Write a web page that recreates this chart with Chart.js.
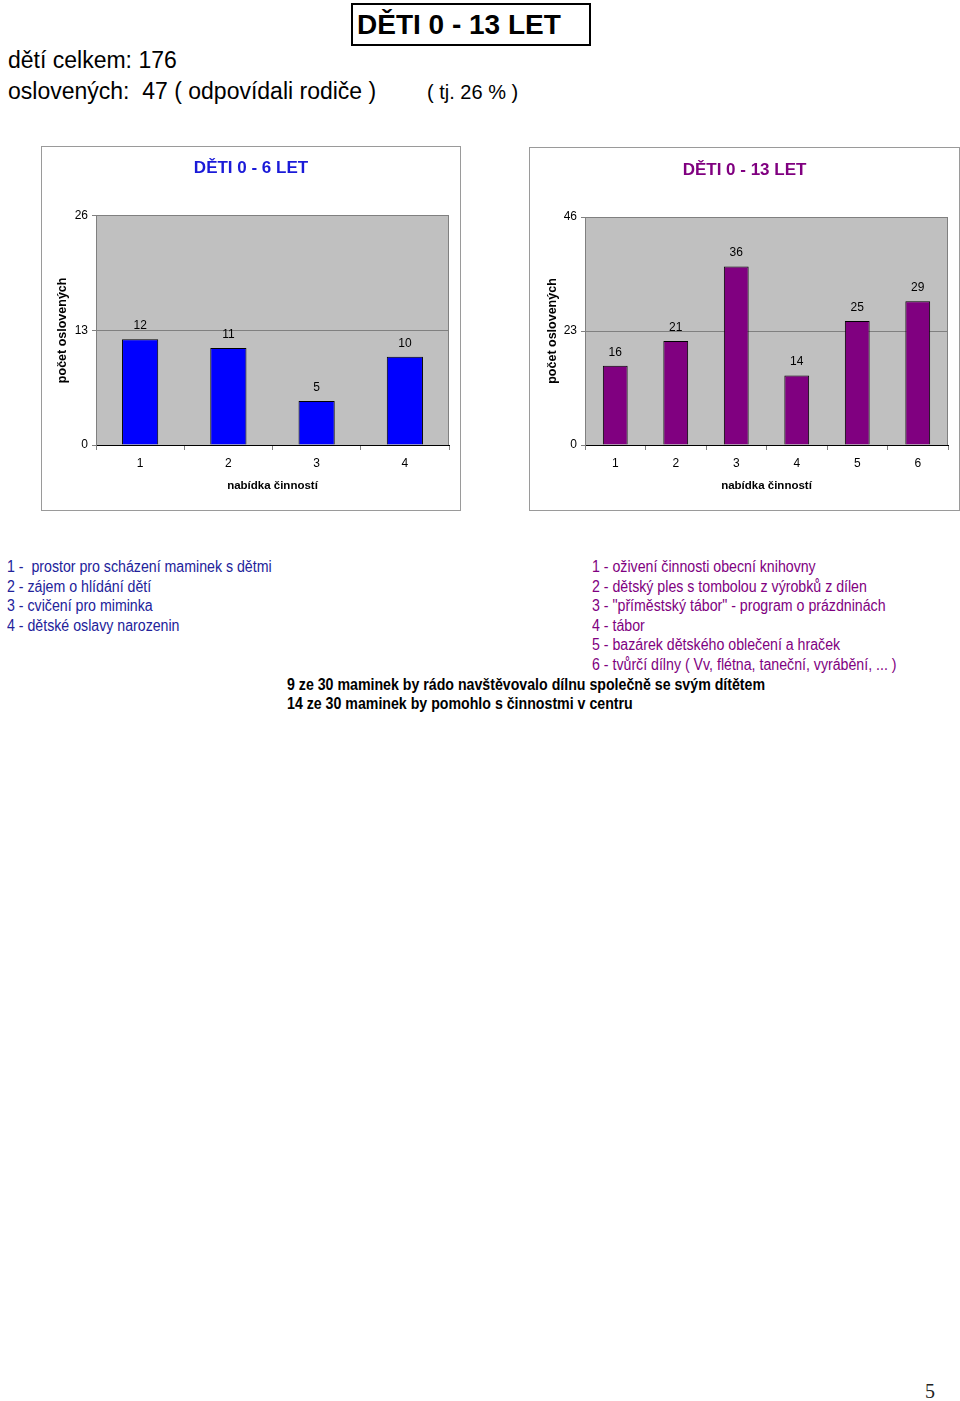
<!DOCTYPE html>
<html lang="cs">
<head>
<meta charset="utf-8">
<title>DĚTI 0 - 13 LET</title>
<script src="https://cdn.jsdelivr.net/npm/chart.js@4.4.1/dist/chart.umd.min.js"></script>
<style>
  html, body { margin: 0; padding: 0; background: #fff; }
  body { width: 960px; height: 1401px; position: relative; overflow: hidden;
         font-family: "Liberation Sans", Arial, sans-serif; color: #000; }
  .abs { position: absolute; white-space: pre; line-height: 1; }
  #bigTitle { left: 351px; top: 3px; width: 240px; height: 43px; box-sizing: border-box;
              border: 2px solid #000; }
  #bigTitleText { left: 357px; top: 11px; font-size: 28px; font-weight: bold; }
  #total { left: 8px; top: 49px; font-size: 23px; }
  #asked { left: 8px; top: 80px; font-size: 23px; }
  #pct { left: 427px; top: 82px; font-size: 20px; }
  .chartBox { position: absolute; }
  .narrow { position: absolute; white-space: pre; font-size: 17.3px; line-height: 19.57px;
            font-family: "Liberation Sans Narrow", "Arial Narrow", sans-serif; }
  .narrow.fake { font-family: "Liberation Sans", Arial, sans-serif; transform: scaleX(0.82);
                 transform-origin: left top; }
  #legend06 { left: 7px; top: 557px; color: #22229a; }
  #legend013 { left: 592px; top: 557px; color: #800080; }
  #notes { left: 287px; top: 674.5px; font-weight: bold; color: #000; }
  #pageNo { left: 925px; top: 1381px; font-size: 20px; font-family: "Liberation Serif", serif; color: #222; }
</style>
</head>
<body>
<div id="bigTitle" class="abs"></div>
<div id="bigTitleText" class="abs">DĚTI 0 - 13 LET</div>
<div id="total" class="abs">dětí celkem: 176</div>
<div id="asked" class="abs">oslovených:  47 ( odpovídali rodiče )</div>
<div id="pct" class="abs">( tj. 26 % )</div>

<div class="chartBox" style="left:41px; top:146px;"><canvas id="chart06" width="420" height="365"></canvas></div>
<div class="chartBox" style="left:529px; top:147px;"><canvas id="chart013" width="431" height="364"></canvas></div>

<div id="legend06" class="narrow"></div>
<div id="legend013" class="narrow"></div>
<div id="notes" class="narrow"></div>
<div id="pageNo" class="abs">5</div>

<script>
// data
const categories06 = ["1", "2", "3", "4"];
const values06 = [12, 11, 5, 10];
const yTicks06 = [0, 13, 26];

const categories013 = ["1", "2", "3", "4", "5", "6"];
const values013 = [16, 21, 36, 14, 25, 29];
const yTicks013 = [0, 23, 46];

const legend06 = [
  "1 -  prostor pro scházení maminek s dětmi",
  "2 - zájem o hlídání dětí",
  "3 - cvičení pro miminka",
  "4 - dětské oslavy narozenin",
];
const legend013 = [
  "1 - oživení činnosti obecní knihovny",
  "2 - dětský ples s tombolou z výrobků z dílen",
  "3 - \"příměstský tábor\" - program o prázdninách",
  "4 - tábor",
  "5 - bazárek dětského oblečení a hraček",
  "6 - tvůrčí dílny ( Vv, flétna, taneční, vyrábění, ... )",
];
const notes = [
  "9 ze 30 maminek by rádo navštěvovalo dílnu společně se svým dítětem",
  "14 ze 30 maminek by pomohlo s činnostmi v centru",
];

// narrow font check, fall back to squeezed Liberation Sans
function hasFont(name) {
  const c = document.createElement("canvas").getContext("2d");
  c.font = "20px monospace";
  const a = c.measureText("abcdefgh mmm ili").width;
  c.font = '20px "' + name + '", monospace';
  const b = c.measureText("abcdefgh mmm ili").width;
  return a !== b;
}
const narrowOk = hasFont("Liberation Sans Narrow");
document.getElementById("legend06").textContent = legend06.join("\n");
document.getElementById("legend013").textContent = legend013.join("\n");
document.getElementById("notes").textContent = notes.join("\n");
if (!narrowOk) {
  document.querySelectorAll(".narrow").forEach(el => el.classList.add("fake"));
}

Chart.defaults.font.family = '"Liberation Sans", Arial, sans-serif';
Chart.defaults.font.size = 12;
Chart.defaults.color = "#000";

const plotStyle = {
  id: "plotStyle",
  beforeDraw(chart) {
    const { ctx, chartArea: a, width, height } = chart;
    ctx.save();
    ctx.strokeStyle = "#9a9a9a";
    ctx.lineWidth = 1;
    ctx.strokeRect(0.5, 0.5, width - 1, height - 1);
    ctx.fillStyle = "#c0c0c0";
    ctx.fillRect(a.left, a.top, a.right - a.left, a.bottom - a.top);
    ctx.restore();
  },
  beforeDatasetsDraw(chart) {
    const { ctx, chartArea: a } = chart;
    ctx.save();
    ctx.strokeStyle = "#808080";
    ctx.lineWidth = 1;
    ctx.beginPath();
    ctx.moveTo(Math.round(a.right) - 0.5, a.top);
    ctx.lineTo(Math.round(a.right) - 0.5, a.bottom);
    ctx.stroke();
    ctx.restore();
  },
  afterDatasetsDraw(chart) {
    const { ctx } = chart;
    ctx.save();
    ctx.font = '12px "Liberation Sans", Arial, sans-serif';
    ctx.fillStyle = "#000";
    ctx.textAlign = "center";
    ctx.textBaseline = "middle";
    chart.data.datasets.forEach((ds, i) => {
      chart.getDatasetMeta(i).data.forEach((bar, j) => {
        ctx.fillText(String(ds.data[j]), bar.x, bar.y - 13.5);
      });
    });
    ctx.restore();
  },
};

function makeChart(id, labels, values, yTicks, color, titleColor, titleText, opts) {
  const ctx = document.getElementById(id).getContext("2d");
  return new Chart(ctx, {
    type: "bar",
    data: {
      labels: labels,
      datasets: [{
        data: values,
        backgroundColor: color,
        borderColor: "#000",
        borderWidth: 1,
        barPercentage: 0.41,
        categoryPercentage: 1,
      }],
    },
    options: {
      responsive: false,
      devicePixelRatio: 1,
      animation: false,
      layout: { padding: { left: 12, right: 12, top: 0, bottom: 0 } },
      plugins: {
        legend: { display: false },
        tooltip: { enabled: false },
        title: {
          display: true,
          text: titleText,
          color: titleColor,
          font: { size: 17, weight: "bold" },
          padding: { top: opts.titleTop, bottom: opts.titleBottom },
        },
      },
      scales: {
        x: {
          grid: { display: true, drawOnChartArea: false, drawTicks: true, tickLength: 5, color: "#808080" },
          border: { color: "#000" },
          ticks: { padding: 6, font: { size: 12 } },
          title: {
            display: true,
            text: "nabídka činností",
            font: { size: 11.5, weight: "bold" },
            padding: { top: 0, bottom: 18.4 },
          },
          afterFit(scale) { scale.height = opts.xHeight; },
        },
        y: {
          min: yTicks[0],
          max: yTicks[yTicks.length - 1],
          afterBuildTicks(scale) { scale.ticks = yTicks.map(v => ({ value: v })); },
          grid: {
            color: c => (c.tick && c.tick.value === 0 ? "rgba(0,0,0,0)" : "#808080"),
            tickColor: "#808080",
            tickLength: 4,
          },
          border: { color: "#808080" },
          ticks: { padding: 4, font: { size: 12 } },
          title: {
            display: true,
            text: "počet oslovených",
            font: { size: 12.5, weight: "bold" },
            padding: { top: opts.yTitleTop, bottom: 0 },
          },
          afterFit(scale) { scale.width = opts.yWidth; },
        },
      },
    },
    plugins: [plotStyle],
  });
}

makeChart("chart06", categories06, values06, yTicks06, "#0000ff", "#1a1ad8", "DĚTI 0 - 6 LET",
  { titleTop: 12.1, titleBottom: 37.2, xHeight: 66, yWidth: 43, yTitleTop: 2.2 });
makeChart("chart013", categories013, values013, yTicks013, "#800080", "#800080", "DĚTI 0 - 13 LET",
  { titleTop: 12.8, titleBottom: 36.8, xHeight: 66, yWidth: 44, yTitleTop: 4.2 });
</script>
</body>
</html>
